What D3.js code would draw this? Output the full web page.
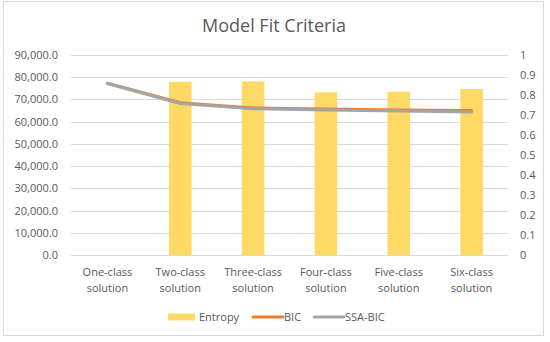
<!DOCTYPE html>
<html>
<head>
<meta charset="utf-8">
<script src="https://cdn.jsdelivr.net/npm/d3@7"></script>
<style>
  body { margin: 0; background: #fff; }
  text { font-family: "Open Sans", sans-serif; fill: #595959; }
</style>
</head>
<body>
<div id="chart-area"></div>
<script>
// data
let categories = ["One-class solution", "Two-class solution", "Three-class solution",
  "Four-class solution", "Five-class solution", "Six-class solution"];
let entropy = [null, 0.866, 0.868, 0.813, 0.816, 0.830];
let bic = [77300, 68500, 66200, 65700, 65300, 65000];
let ssaBic = [77200, 68200, 65800, 65200, 64800, 64300];
let leftTicks = [0, 10000, 20000, 30000, 40000, 50000, 60000, 70000, 80000, 90000];
let rightTicks = [0, 0.1, 0.2, 0.3, 0.4, 0.5, 0.6, 0.7, 0.8, 0.9, 1];
let seriesNames = ["Entropy", "BIC", "SSA-BIC"];
let seriesColors = ["#FFD966", "#ED7D31", "#A5A5A5"];

let W = 550, H = 342;
let margin = { left: 71, right: 42, top: 55, bottom: 87 };
let width = W - margin.left - margin.right;
let height = H - margin.top - margin.bottom;

let svg = d3.select("#chart-area")
  .append("svg")
  .attr("width", W)
  .attr("height", H);

// chart frame
svg.append("rect")
  .attr("x", 3.5).attr("y", 1.5)
  .attr("width", 540).attr("height", 334)
  .attr("fill", "#fff")
  .attr("stroke", "#D9D9D9");

svg.append("text")
  .attr("x", 274).attr("y", 32)
  .attr("text-anchor", "middle")
  .attr("font-size", "18px")
  .text("Model Fit Criteria");

let g = svg.append("g")
  .attr("transform", "translate(" + margin.left + "," + margin.top + ")");

let x = d3.scaleBand()
  .domain(categories)
  .range([0, width]);

let yL = d3.scaleLinear()
  .domain([0, 90000])
  .range([height, 0]);

let yR = d3.scaleLinear()
  .domain([0, 1])
  .range([height, 0]);

// gridlines
g.append("g")
  .selectAll("line")
  .data(leftTicks)
  .enter()
  .append("line")
  .attr("x1", 0).attr("x2", width)
  .attr("y1", d => Math.round(yL(d)) + 0.5)
  .attr("y2", d => Math.round(yL(d)) + 0.5)
  .attr("stroke", "#D9D9D9")
  .attr("stroke-width", 1);

// left axis
let yAxisCall = d3.axisLeft(yL)
  .tickValues(leftTicks)
  .tickFormat(d3.format(",.1f"))
  .tickSize(0)
  .tickPadding(13);
g.append("g")
  .attr("class", "y axis")
  .call(yAxisCall)
  .call(a => a.select(".domain").remove())
  .selectAll("text")
  .attr("font-size", "11px")
  .attr("font-family", "\"Open Sans\", sans-serif")
  .attr("fill", "#595959");

// right axis
let yAxisRightCall = d3.axisRight(yR)
  .tickValues(rightTicks)
  .tickFormat(d => String(+d.toFixed(1)))
  .tickSize(0)
  .tickPadding(12);
g.append("g")
  .attr("class", "y axis right")
  .attr("transform", "translate(" + width + ",0)")
  .call(yAxisRightCall)
  .call(a => a.select(".domain").remove())
  .selectAll("text")
  .attr("font-size", "11px")
  .attr("font-family", "\"Open Sans\", sans-serif")
  .attr("fill", "#595959");

// x labels, two lines
let xLabels = g.append("g").selectAll("text")
  .data(categories)
  .enter()
  .append("text")
  .attr("text-anchor", "middle")
  .attr("font-size", "11px")
  .attr("transform", d => "translate(" + (x(d) + x.bandwidth() / 2) + "," + (height + 21) + ")");
xLabels.append("tspan")
  .attr("x", 0).attr("y", 0)
  .text(d => d.split(" ")[0]);
xLabels.append("tspan")
  .attr("x", 0).attr("y", 16)
  .text(d => d.split(" ")[1]);

// bars (entropy, right axis)
let barW = x.bandwidth() * 0.31;
g.selectAll("rect.bar")
  .data(categories.map((c, i) => ({ c: c, v: entropy[i] })).filter(d => d.v != null))
  .enter()
  .append("rect")
  .attr("class", "bar")
  .attr("x", d => x(d.c) + x.bandwidth() / 2 - barW / 2)
  .attr("width", barW)
  .attr("y", d => yR(d.v))
  .attr("height", d => height - yR(d.v))
  .attr("fill", seriesColors[0]);

// lines (left axis)
let line = d3.line()
  .x((d, i) => x(categories[i]) + x.bandwidth() / 2)
  .y(d => yL(d));

[bic, ssaBic].forEach((s, k) => {
  g.append("path")
    .datum(s)
    .attr("d", line)
    .attr("fill", "none")
    .attr("stroke", seriesColors[k + 1])
    .attr("stroke-width", 3)
    .attr("stroke-linejoin", "round")
    .attr("stroke-linecap", "round");
});

// legend
let legend = svg.append("g").attr("transform", "translate(0,317)");
let lx = [168, 253, 314];
seriesNames.forEach((name, i) => {
  if (i === 0) {
    legend.append("rect")
      .attr("x", lx[i]).attr("y", -3.5)
      .attr("width", 27).attr("height", 7)
      .attr("fill", seriesColors[i]);
  } else {
    legend.append("line")
      .attr("x1", lx[i]).attr("x2", lx[i] + 30)
      .attr("y1", 0).attr("y2", 0)
      .attr("stroke", seriesColors[i])
      .attr("stroke-width", 3)
      .attr("stroke-linecap", "round");
  }
  legend.append("text")
    .attr("x", lx[i] + 31)
    .attr("y", 4)
    .attr("font-size", "11px")
    .text(name);
});
</script>
</body>
</html>
